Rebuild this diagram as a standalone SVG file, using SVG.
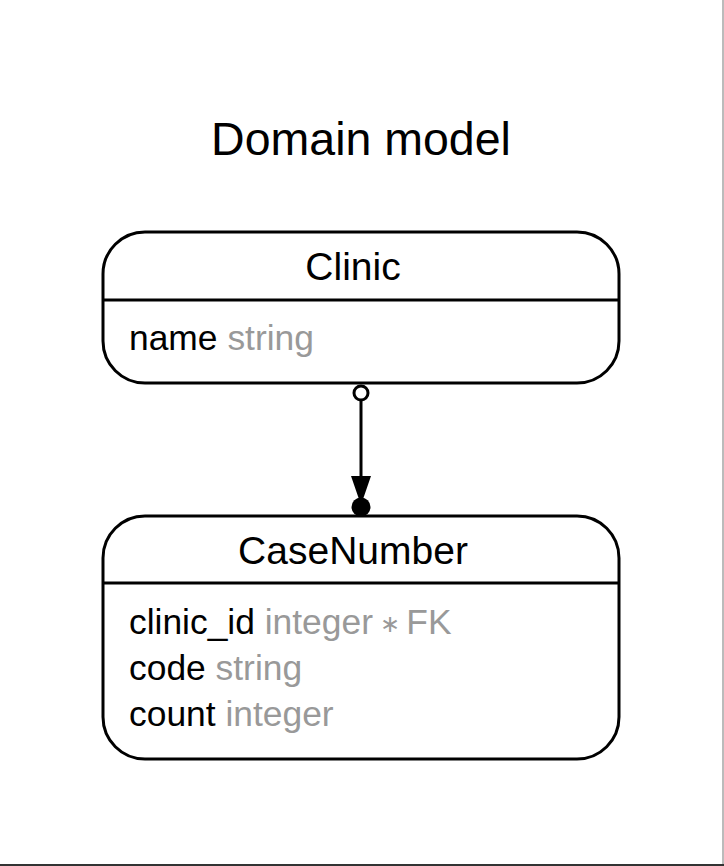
<svg xmlns="http://www.w3.org/2000/svg" width="724" height="866" viewBox="0 0 724 866">
<style>
text{font-family:"Liberation Sans",Arial,Helvetica,sans-serif;fill:#000}
.box{fill:#fff;stroke:#000;stroke-width:3}
.sep{stroke:#000;stroke-width:3}
.title{font-size:46.5px}
.hdr{font-size:39px}
.attr{font-size:35.4px}
.type{fill:#999}
.edge{stroke:#000;stroke-width:3;fill:none}
</style>
<rect x="0" y="0" width="724" height="866" fill="#fff"/>
<line x1="723" y1="0" x2="723" y2="866" stroke="#bbb" stroke-width="2"/>
<line x1="0" y1="865" x2="724" y2="865" stroke="#333" stroke-width="2"/>
<text class="title" x="361" y="155" text-anchor="middle">Domain model</text>
<g id="connectors">
<line class="edge" x1="361" y1="400" x2="361" y2="482"/>
<circle cx="361" cy="393" r="7" fill="#fff" stroke="#000" stroke-width="3"/>
<polygon points="351,476 371,476 361,505" fill="#000"/>
<circle cx="361" cy="507" r="9.5" fill="#000"/>
</g>
<g id="Clinic">
<rect class="box" x="103" y="232" width="516" height="151" rx="42" ry="42"/>
<line class="sep" x1="103" y1="300" x2="619" y2="300"/>
<text class="hdr" x="353" y="280" text-anchor="middle">Clinic</text>
<text class="attr" x="129" y="350">name <tspan class="type">string</tspan></text>
</g>
<g id="CaseNumber">
<rect class="box" x="103" y="516" width="516" height="243" rx="42" ry="42"/>
<line class="sep" x1="103" y1="583" x2="619" y2="583"/>
<text class="hdr" x="353" y="564" text-anchor="middle">CaseNumber</text>
<text class="attr" x="129" y="634">clinic_id <tspan class="type">integer</tspan><tspan class="type" font-size="24" dy="-2"> ∗ </tspan><tspan class="type" dy="2">FK</tspan></text>
<text class="attr" x="129" y="680">code <tspan class="type">string</tspan></text>
<text class="attr" x="129" y="726">count <tspan class="type">integer</tspan></text>
</g>
</svg>
